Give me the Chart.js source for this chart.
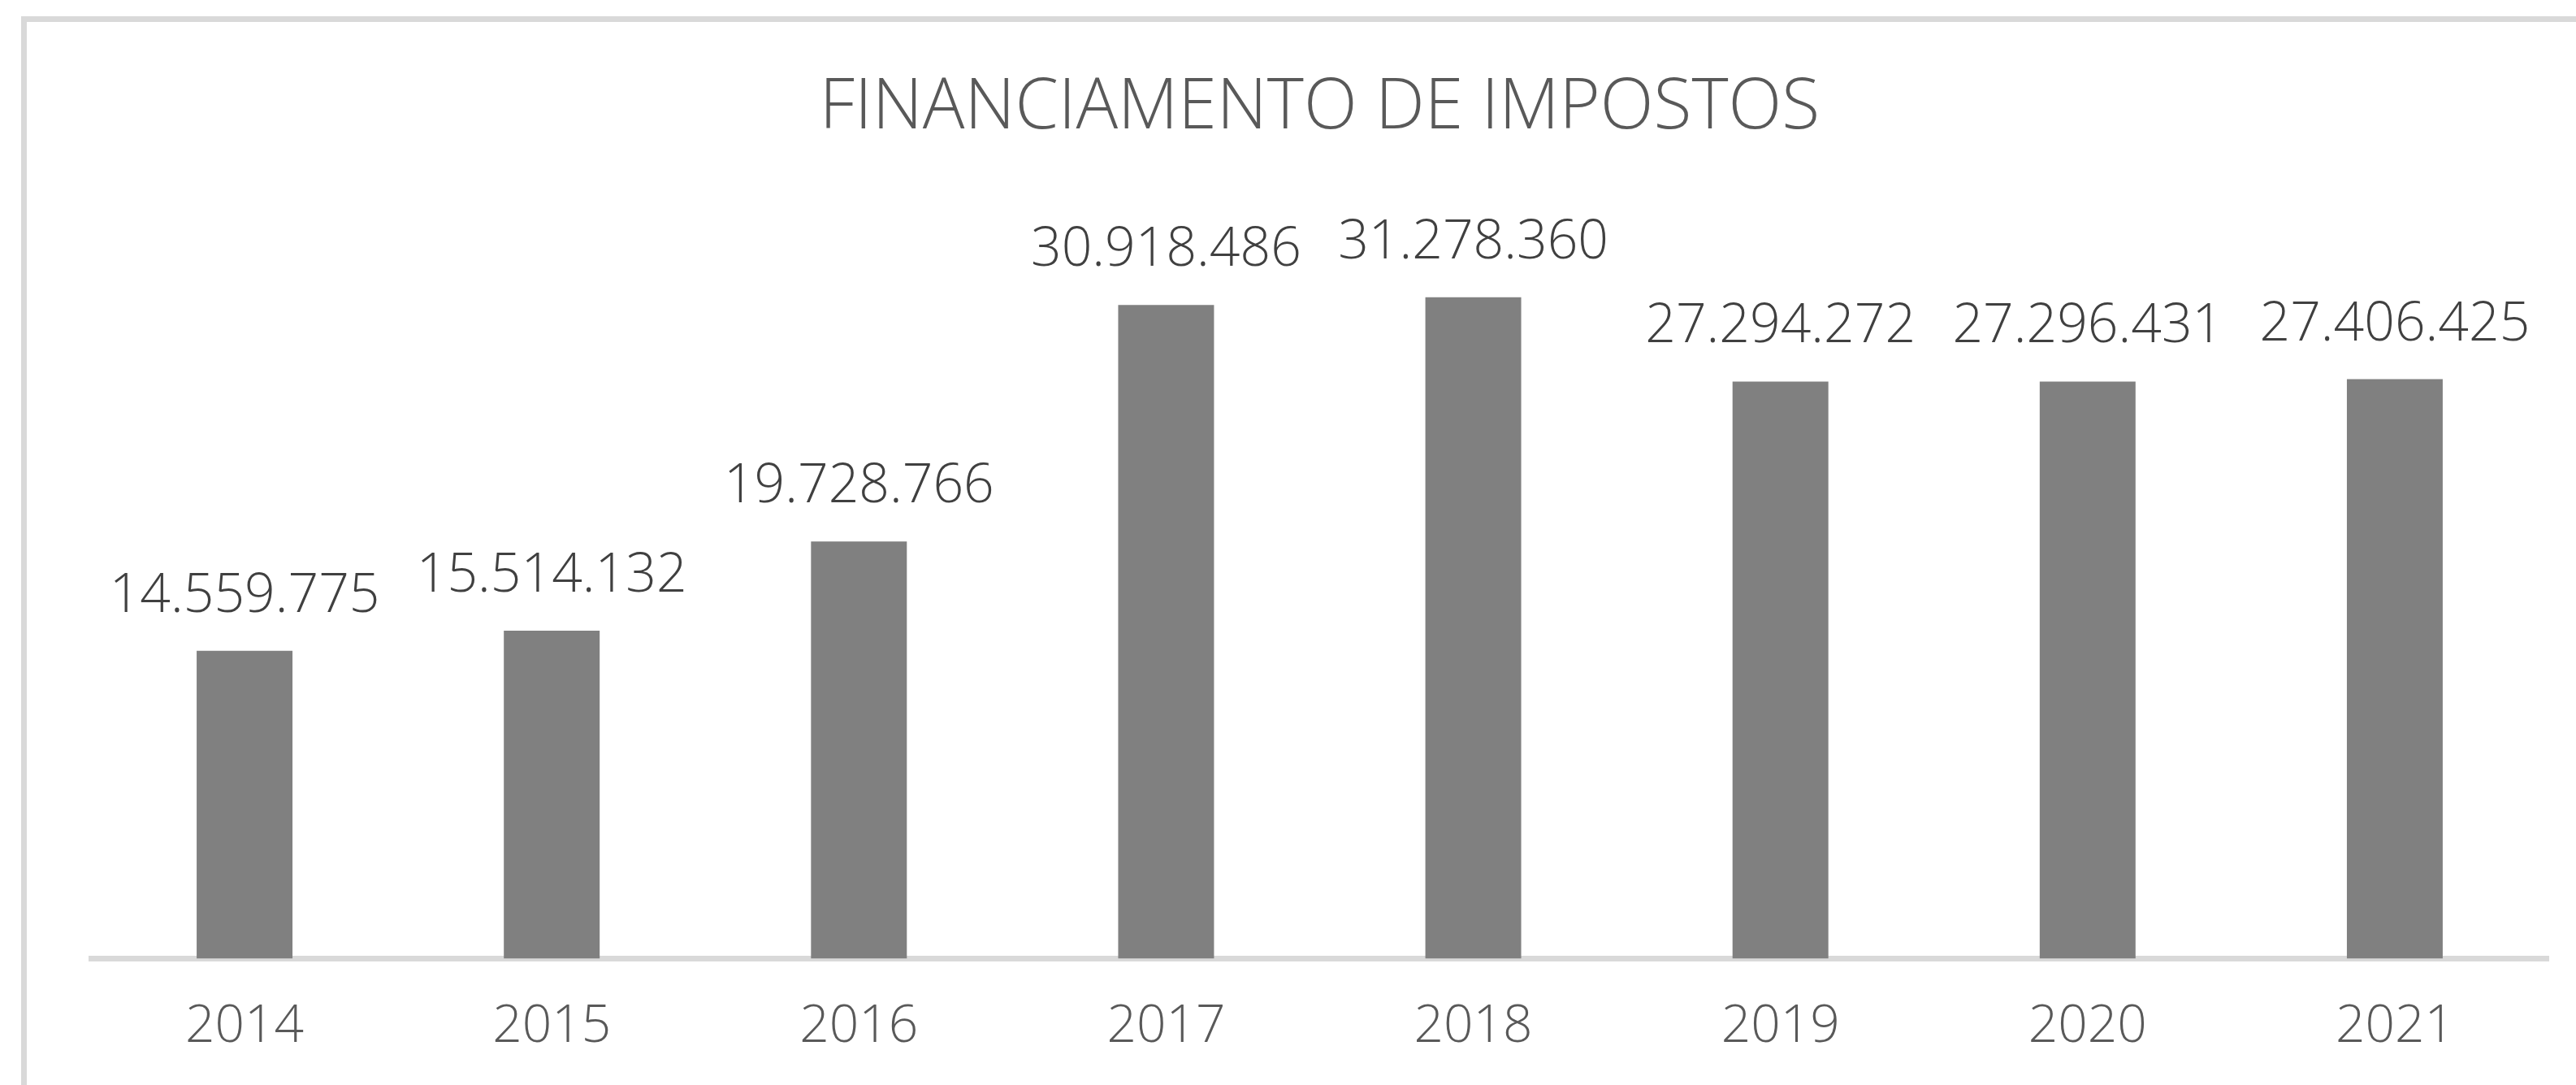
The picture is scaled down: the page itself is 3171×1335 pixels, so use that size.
<!DOCTYPE html>
<html lang="pt">
<head>
  <meta charset="UTF-8" />
  <title>Financiamento de Impostos</title>
  <script src="https://cdn.jsdelivr.net/npm/chart.js@4.4.1/dist/chart.umd.min.js"></script>
  <style>
    html, body { margin: 0; padding: 0; background: #fff; overflow: hidden; }
    #wrap { position: relative; width: 3171px; height: 1335px; }
    #frame { position: absolute; left: 26px; top: 20px; right: -20px; bottom: -20px;
             border-top: 7px solid #d9d9d9; border-left: 7px solid #d9d9d9; }
    #barChart { position: absolute; left: 0; top: 0; }
  </style>
</head>
<body>
  <div id="wrap">
    <div id="frame"></div>
    <canvas id="barChart"></canvas>
  </div>

  <script>
    const years = ['2014', '2015', '2016', '2017', '2018', '2019', '2020', '2021']
    const values = [14559775, 15514132, 19728766, 30918486, 31278360, 27294272, 27296431, 27406425]
    const chartTitle = 'FINANCIAMENTO DE IMPOSTOS'
    const yMax = 35000000

    const fontFamily = '"Open Sans", sans-serif'

    function formatPt(n) {
      return String(n).replace(/\B(?=(\d{3})+(?!\d))/g, '.')
    }

    // labels sitting above each bar
    const valueLabels = {
      id: 'valueLabels',
      afterDatasetsDraw(chart) {
        const ctx = chart.ctx
        const meta = chart.getDatasetMeta(0)
        ctx.save()
        ctx.font = '300 66px ' + fontFamily
        ctx.fillStyle = '#404040'
        ctx.textAlign = 'center'
        ctx.textBaseline = 'alphabetic'
        meta.data.forEach((bar, i) => {
          ctx.fillText(formatPt(values[i]), bar.x, bar.y - 48)
        })
        ctx.restore()
      }
    }

    const ctx = document.getElementById('barChart').getContext('2d')
    new Chart(ctx, {
      type: 'bar',
      data: {
        labels: years,
        datasets: [{
          data: values,
          backgroundColor: '#808080',
          borderWidth: 0,
          categoryPercentage: 1,
          barPercentage: 0.312
        }]
      },
      options: {
        responsive: true,
        maintainAspectRatio: false,
        animation: false,
        layout: { padding: { left: 112, right: 34, top: 0, bottom: 0 } },
        plugins: {
          legend: { display: false },
          tooltip: { enabled: false },
          title: {
            display: true,
            text: chartTitle,
            color: '#595959',
            font: { family: fontFamily, size: 86, weight: '300', lineHeight: 1 },
            padding: { top: 90, bottom: 93 }
          }
        },
        scales: {
          x: {
            z: 1,
            grid: { display: false, drawTicks: false },
            border: { display: true, color: '#d9d9d9', width: 7 },
            ticks: {
              color: '#595959',
              padding: 46,
              font: { family: fontFamily, size: 64, weight: '300' }
            },
            afterFit(scale) { scale.height = 155.5 }
          },
          y: {
            display: false,
            min: 0,
            max: yMax
          }
        }
      },
      plugins: [valueLabels]
    })
  </script>
</body>
</html>
